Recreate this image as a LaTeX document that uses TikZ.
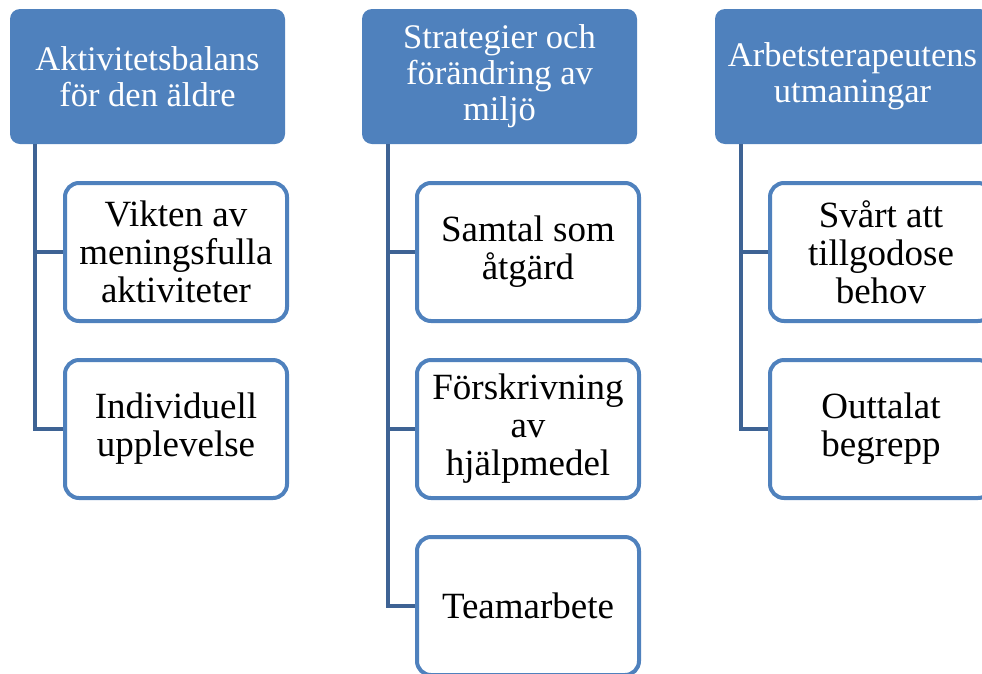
\documentclass[tikz,border=0pt]{standalone}
\usepackage{fontspec}
\setmainfont{Liberation Serif}
\definecolor{headblue}{RGB}{79,129,189}
\definecolor{linkblue}{RGB}{62,99,148}
\tikzset{
  headbox/.style={fill=headblue, text=white, rounded corners=10pt,
    minimum width=275pt, minimum height=135pt, inner sep=0pt, align=center,
    font=\fontsize{34.5}{36}\selectfont},
  leafbox/.style={draw=headblue, fill=white, line width=4pt, rounded corners=14pt,
    minimum width=222pt, minimum height=138pt, inner sep=0pt, align=center,
    font=\fontsize{37}{38}\selectfont},
  link/.style={draw=linkblue, line width=4pt}
}
\begin{document}
\begin{tikzpicture}[x=1pt,y=-1pt]
\useasboundingbox (0,0) rectangle (982,673);
\clip (0,0) rectangle (982,673);
% headers
\node[headbox] (h1) at (147.5,76.5){Aktivitetsbalans\\för den äldre};
\node[headbox] (h2) at (499.5,76.5){Strategier och\\förändring av\\miljö};
\node[headbox] (h3) at (852.5,76.5){Arbetsterapeutens\\utmaningar};
% trunk points
\coordinate (t1) at ([xshift=-112.5pt]h1.south);
\coordinate (t2) at ([xshift=-111.5pt]h2.south);
\coordinate (t3) at ([xshift=-111.5pt]h3.south);
% children
\node[leafbox] (c11) at (176,252){Vikten av\\meningsfulla\\aktiviteter};
\node[leafbox] (c12) at (176,429){Individuell\\upplevelse};
\node[leafbox] (c21) at (528,252){Samtal som\\åtgärd};
\node[leafbox] (c22) at (528,429){Förskrivning\\av\\hjälpmedel};
\node[leafbox] (c23) at (528,606){Teamarbete};
\node[leafbox] (c31) at (881,252){Svårt att\\tillgodose\\behov};
\node[leafbox] (c32) at (881,429){Outtalat\\begrepp};
% connectors
\draw[link] (t1) |- (c11.west);
\draw[link] (t1) |- (c12.west);
\draw[link] (t2) |- (c21.west);
\draw[link] (t2) |- (c22.west);
\draw[link] (t2) |- (c23.west);
\draw[link] (t3) |- (c31.west);
\draw[link] (t3) |- (c32.west);
\end{tikzpicture}
\end{document}
